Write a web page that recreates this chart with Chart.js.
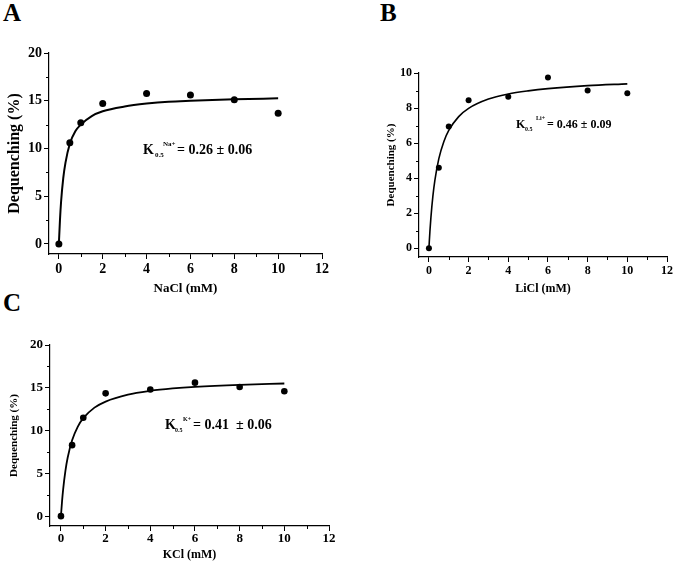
<!DOCTYPE html>
<html>
<head>
<meta charset="utf-8">
<script src="https://cdn.jsdelivr.net/npm/chart.js@4.4.0/dist/chart.umd.min.js"></script>
<style>
  html, body { margin: 0; padding: 0; background: #fff; }
  #page { position: relative; width: 675px; height: 564px; overflow: hidden; }
  .letter {
    position: absolute;
    font-family: "Liberation Serif", "Times New Roman", serif;
    font-weight: bold;
    font-size: 25px;
    line-height: 1;
    color: #000;
  }
  canvas { position: absolute; }
</style>
</head>
<body>
<div id="page">
  <div class="letter" style="left:3px;top:0px">A</div>
  <div class="letter" style="left:380px;top:0px">B</div>
  <div class="letter" style="left:3px;top:290px">C</div>
  <canvas id="chartA" width="340" height="300" style="left:0;top:0"></canvas>
  <canvas id="chartB" width="335" height="300" style="left:340px;top:0"></canvas>
  <canvas id="chartC" width="340" height="284" style="left:0;top:280px"></canvas>
</div>
<script>
// measured points (mM salt -> % dequenching)
const conc = [0, 0.5, 1, 2, 4, 6, 8, 10];
const naclData = [0, 10.6, 12.7, 14.7, 15.75, 15.6, 15.1, 13.7];
const liclData = [0, 4.6, 6.95, 8.45, 8.65, 9.75, 9.0, 8.85];
const kclData = [0, 8.3, 11.5, 14.35, 14.8, 15.6, 15.1, 14.6];

// fitted curves
const fitConc = [0, 0.05, 0.1, 0.2, 0.3, 0.5, 0.75, 1, 1.5, 2, 3, 4, 5, 6, 8, 10];
const naclFit = [0, 2.5, 4.4, 6.9, 8.5, 10.5, 11.8, 12.5, 13.4, 13.9, 14.4, 14.7, 14.9, 15.0, 15.15, 15.25];
const liclFit = [0, 0.96, 1.75, 2.97, 3.87, 5.11, 6.08, 6.72, 7.51, 7.98, 8.51, 8.8, 8.98, 9.11, 9.28, 9.38];
const kclFit = [0, 1.75, 3.16, 5.29, 6.82, 8.87, 10.44, 11.45, 12.68, 13.39, 14.2, 14.64, 14.92, 15.11, 15.35, 15.5];

// tick values
const xMajor = [0, 2, 4, 6, 8, 10, 12];
const xMinor = [1, 3, 5, 7, 9, 11];
const yMajor20 = [0, 5, 10, 15, 20];
const yMinor20 = [2.5, 7.5, 12.5, 17.5];
const yMajor10 = [0, 2, 4, 6, 8, 10];
const yMinor10 = [1, 3, 5, 7, 9];

const serif = '"Liberation Serif", "Times New Roman", serif';

const minorTicks = {
  id: 'minorTicks',
  afterDraw(chart, args, o) {
    const ctx = chart.ctx;
    const xs = chart.scales.x, ys = chart.scales.y;
    ctx.save();
    ctx.strokeStyle = '#000';
    ctx.lineWidth = 1;
    ctx.beginPath();
    o.x.forEach(v => {
      const px = Math.round(xs.getPixelForValue(v)) + 0.5;
      ctx.moveTo(px, xs.top);
      ctx.lineTo(px, xs.top + 3);
    });
    o.y.forEach(v => {
      const py = Math.round(ys.getPixelForValue(v)) + 0.5;
      ctx.moveTo(ys.right, py);
      ctx.lineTo(ys.right - 3, py);
    });
    ctx.stroke();
    ctx.restore();
  }
};

// K0.5 label with sub/superscript
const kLabel = {
  id: 'kLabel',
  afterDraw(chart, args, o) {
    const ctx = chart.ctx;
    ctx.save();
    ctx.fillStyle = '#000';
    ctx.textBaseline = 'alphabetic';
    ctx.font = 'bold ' + o.size + 'px ' + serif;
    ctx.fillText('K', o.x, o.y);
    ctx.fillText(o.rest, o.x + o.restDx, o.y);
    ctx.font = 'bold ' + o.small + 'px ' + serif;
    ctx.fillText(o.sub, o.x + o.subDx, o.y + 3);
    ctx.fillText(o.sup, o.x + o.supDx, o.y - 8);
    ctx.restore();
  }
};

function toXY(xs, ys) {
  return xs.map((x, i) => ({ x: x, y: ys[i] }));
}

function makePanel(id, p) {
  const tickFont = { family: serif, weight: 'bold', size: p.tickSize };
  return new Chart(document.getElementById(id), {
    type: 'scatter',
    data: {
      datasets: [
        {
          data: toXY(conc, p.points),
          pointRadius: p.dot,
          pointBackgroundColor: '#000',
          pointBorderWidth: 0,
          showLine: false
        },
        {
          data: toXY(fitConc, p.fit),
          showLine: true,
          pointRadius: 0,
          borderColor: '#000',
          borderWidth: p.lineW,
          cubicInterpolationMode: 'monotone',
          fill: false
        }
      ]
    },
    options: {
      responsive: false,
      animation: false,
      layout: { padding: p.pad },
      plugins: {
        legend: { display: false },
        tooltip: { enabled: false },
        minorTicks: { x: xMinor, y: p.yMinor },
        kLabel: p.k
      },
      scales: {
        x: {
          type: 'linear',
          min: p.xMin,
          max: 12,
          afterBuildTicks: s => { s.ticks = xMajor.map(v => ({ value: v })); },
          afterFit: s => { s.height = p.xH; },
          grid: { drawOnChartArea: false, tickLength: 5, tickColor: '#000', tickWidth: 1 },
          border: { display: true, color: '#000', width: 1.2 },
          ticks: { color: '#000', font: tickFont, padding: p.xTickPad, maxRotation: 0, autoSkip: false },
          title: {
            display: true, text: p.xTitle, color: '#000',
            font: { family: serif, weight: 'bold', size: p.xTitleSize },
            padding: { top: 0, bottom: p.xTitleBottom }
          }
        },
        y: {
          type: 'linear',
          min: p.yMin,
          max: p.yMax,
          afterBuildTicks: s => { s.ticks = p.yMajor.map(v => ({ value: v })); },
          afterFit: s => { s.width = p.yW; },
          grid: { drawOnChartArea: false, tickLength: 5, tickColor: '#000', tickWidth: 1 },
          border: { display: true, color: '#000', width: 1.2 },
          ticks: { color: '#000', font: tickFont, padding: 2, autoSkip: false },
          title: {
            display: true, text: 'Dequenching (%)', color: '#000',
            font: { family: serif, weight: 'bold', size: p.yTitleSize },
            padding: { top: 4, bottom: 4 }
          }
        }
      }
    },
    plugins: [minorTicks, kLabel]
  });
}

makePanel('chartA', {
  points: naclData, fit: naclFit,
  xMin: -0.45, yMin: -1.05, yMax: 20,
  yMajor: yMajor20, yMinor: yMinor20,
  pad: { left: 1, top: 53, right: 18, bottom: 0 },
  yW: 48, xH: 46, xTickPad: 2,
  tickSize: 14, xTitle: 'NaCl (mM)', xTitleSize: 13, xTitleBottom: 4, yTitleSize: 16,
  dot: 3.5, lineW: 2,
  k: { x: 143, y: 154, size: 14, small: 7, sub: '0.5', sup: 'Na+',
       subDx: 12, supDx: 20, restDx: 34, rest: '= 0.26 ± 0.06' }
});

makePanel('chartB', {
  points: liclData, fit: liclFit,
  xMin: -0.5, yMin: -0.5, yMax: 10,
  yMajor: yMajor10, yMinor: yMinor10,
  pad: { left: 41, top: 73, right: 8, bottom: 0 },
  yW: 38, xH: 43, xTickPad: 2,
  tickSize: 12, xTitle: 'LiCl (mM)', xTitleSize: 12, xTitleBottom: 4, yTitleSize: 11,
  dot: 3, lineW: 1.6,
  k: { x: 176, y: 128, size: 12, small: 6, sub: '0.5', sup: 'Li+',
       subDx: 9, supDx: 20, restDx: 31, rest: '= 0.46 ± 0.09' }
});

makePanel('chartC', {
  points: kclData, fit: kclFit,
  xMin: -0.49, yMin: -1.15, yMax: 20,
  yMajor: yMajor20, yMinor: yMinor20,
  pad: { left: 4, top: 65, right: 11, bottom: 0 },
  yW: 46, xH: 38, xTickPad: 0,
  tickSize: 13, xTitle: 'KCl (mM)', xTitleSize: 12, xTitleBottom: 2, yTitleSize: 11,
  dot: 3.3, lineW: 1.8,
  k: { x: 165, y: 149, size: 14, small: 6, sub: '0.5', sup: 'K+',
       subDx: 10, supDx: 18, restDx: 28, rest: '= 0.41  ± 0.06' }
});
</script>
</body>
</html>
